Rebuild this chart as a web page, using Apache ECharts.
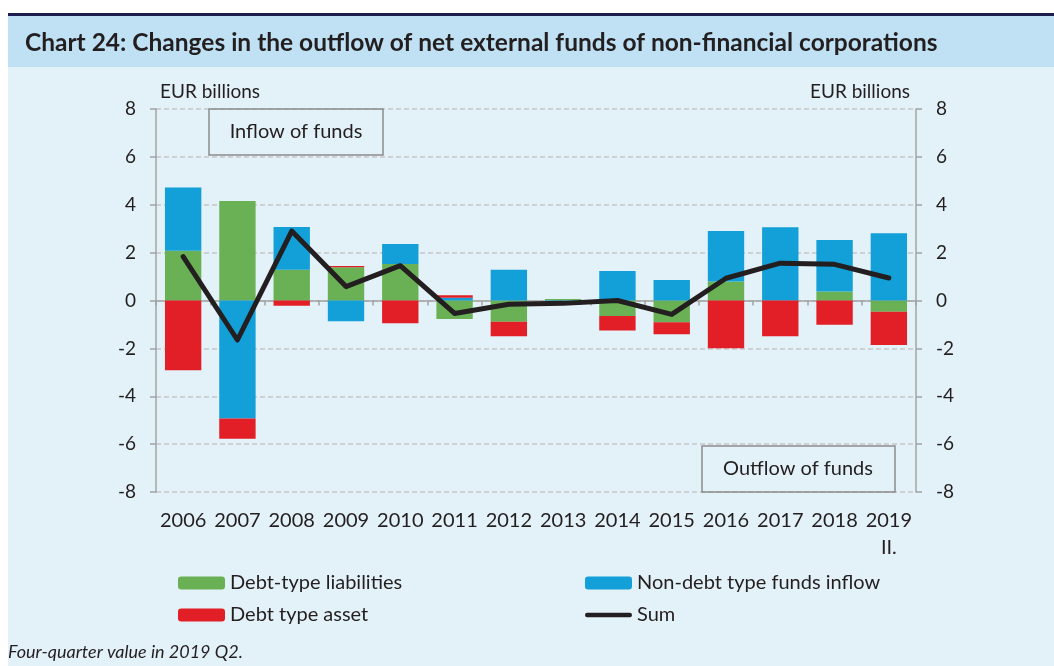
<!DOCTYPE html>
<html>
<head>
<meta charset="utf-8">
<script src="https://cdn.jsdelivr.net/npm/echarts@6/dist/echarts.min.js"></script>
<style>
  html, body { margin: 0; padding: 0; background: #fff; }
  #chart24 { width: 1054px; height: 666px; }
</style>
</head>
<body>
<div id="chart24"></div>
<script>
// data (EUR billions)
var years = ['2006', '2007', '2008', '2009', '2010', '2011', '2012', '2013', '2014', '2015', '2016', '2017', '2018', '2019']
var debtLiabilities = [2.08, 4.16, 1.28, 1.39, 1.53, -0.77, -0.89, 0.06, -0.65, -0.91, 0.79, 0, 0.38, -0.47]
var nonDebtInflow = [2.64, -4.93, 1.79, -0.87, 0.83, 0.12, 1.28, -0.08, 1.23, 0.86, 2.11, 3.06, 2.15, 2.81]
var debtAsset = [-2.91, -0.85, -0.22, 0.05, -0.95, 0.1, -0.6, -0.1, -0.6, -0.5, -1.99, -1.49, -1.01, -1.39]
var sumLine = [1.83, -1.65, 2.9, 0.58, 1.46, -0.54, -0.16, -0.12, 0.0, -0.58, 0.93, 1.56, 1.51, 0.94]
var yTicks = [-8, -6, -4, -2, 0, 2, 4, 6, 8]

var font = 'Lato'
var ink = '#231f20'
var axisGrey = '#a3a3a3'

var myChart = echarts.init(document.getElementById('chart24'))

var yAxisBase = {
  type: 'value',
  min: yTicks[0],
  max: yTicks[yTicks.length - 1],
  interval: 2,
  axisLine: { show: true, lineStyle: { color: axisGrey, width: 1.5 } },
  axisTick: { show: true, length: 6, lineStyle: { color: axisGrey, width: 1.5 } },
  axisLabel: { color: ink, fontFamily: font, fontSize: 19, margin: 20 },
  name: 'EUR billions',
  nameLocation: 'end',
  nameGap: 8,
  nameTextStyle: { color: ink, fontFamily: font, fontSize: 19 }
}

var option = {
  backgroundColor: '#e3f1f8',
  animation: false,
  title: {
    text: 'Chart 24: Changes in the outflow of net external funds of non-financial corporations',
    left: 20,
    top: 26,
    textStyle: { color: ink, fontFamily: font, fontSize: 24.5, fontWeight: 'bold' }
  },
  graphic: [
    { type: 'rect', shape: { x: 0, y: 0, width: 1054, height: 13 }, style: { fill: '#ffffff' } },
    { type: 'rect', shape: { x: 0, y: 0, width: 8, height: 666 }, style: { fill: '#ffffff' } },
    { type: 'rect', shape: { x: 8, y: 13, width: 1046, height: 3 }, style: { fill: '#1d1e4e' } },
    { type: 'rect', shape: { x: 8, y: 16, width: 1046, height: 51 }, style: { fill: '#bfe1f3' } },
    // annotation boxes
    { type: 'rect', z: 50, shape: { x: 209, y: 109, width: 174, height: 46 }, style: { fill: 'none', stroke: '#8c8c8c', lineWidth: 1.5 } },
    { type: 'text', z: 50, x: 296, y: 132, style: { text: 'Inflow of funds', fill: ink, font: '20px Lato', align: 'center', verticalAlign: 'middle' } },
    { type: 'rect', z: 50, shape: { x: 702, y: 446, width: 193, height: 46 }, style: { fill: 'none', stroke: '#8c8c8c', lineWidth: 1.5 } },
    { type: 'text', z: 50, x: 798, y: 469, style: { text: 'Outflow of funds', fill: ink, font: '20px Lato', align: 'center', verticalAlign: 'middle' } },
    { type: 'text', x: 8, y: 652, style: { text: 'Four-quarter value in 2019 Q2.', fill: ink, font: 'italic 18px Lato', verticalAlign: 'middle' } }
  ],
  grid: { left: 156, right: 138, top: 109, bottom: 174 },
  legend: [
    {
      left: 173, top: 568, orient: 'vertical', itemGap: 12, itemWidth: 47, itemHeight: 13,
      textStyle: { color: ink, fontFamily: font, fontSize: 20 },
      data: ['Debt-type liabilities', 'Debt type asset']
    },
    {
      left: 580, top: 568, orient: 'vertical', itemGap: 12, itemWidth: 47, itemHeight: 13,
      textStyle: { color: ink, fontFamily: font, fontSize: 20 },
      data: [
        'Non-debt type funds inflow',
        // thin rounded bar for the line series, padded to the swatch height
        { name: 'Sum', icon: 'path://M0,0M0,13M2,4.3L45,4.3A2.2,2.2,0,0,1,45,8.7L2,8.7A2.2,2.2,0,0,1,2,4.3Z' }
      ]
    }
  ],
  xAxis: [
    {
      type: 'category',
      data: years,
      axisLine: { onZero: true, lineStyle: { color: axisGrey, width: 1.5 } },
      axisTick: { show: true, length: 5, lineStyle: { color: axisGrey, width: 1.5 } },
      axisLabel: { show: false },
      z: 1
    },
    {
      type: 'category',
      data: years,
      position: 'bottom',
      axisLine: { show: false, onZero: false },
      axisTick: { show: false },
      axisLabel: {
        interval: 0,
        color: ink, fontFamily: font, fontSize: 20, margin: 15, lineHeight: 27,
        formatter: function (v) { return v === '2019' ? '2019\nII.' : v }
      }
    }
  ],
  yAxis: [
    Object.assign({}, yAxisBase, {
      position: 'left',
      splitLine: { show: true, lineStyle: { color: '#c6c6c6', width: 1.5, type: [5, 3] } },
      nameTextStyle: Object.assign({}, yAxisBase.nameTextStyle, { align: 'left', padding: [0, 0, 0, 4] })
    }),
    Object.assign({}, yAxisBase, {
      position: 'right',
      splitLine: { show: false },
      nameTextStyle: Object.assign({}, yAxisBase.nameTextStyle, { align: 'right', padding: [0, 6, 0, 0] })
    })
  ],
  series: [
    {
      name: 'Debt-type liabilities', type: 'bar', stack: 'funds', barCategoryGap: '33%',
      itemStyle: { color: '#6ab155' }, data: debtLiabilities
    },
    {
      name: 'Non-debt type funds inflow', type: 'bar', stack: 'funds',
      itemStyle: { color: '#139fd8' }, data: nonDebtInflow
    },
    {
      name: 'Debt type asset', type: 'bar', stack: 'funds',
      itemStyle: { color: '#e21e26' }, data: debtAsset
    },
    {
      name: 'Sum', type: 'line', symbol: 'none', z: 10,
      lineStyle: { color: ink, width: 5, cap: 'round', join: 'round' },
      itemStyle: { color: ink },
      data: sumLine
    }
  ]
}

myChart.setOption(option)
</script>
</body>
</html>
